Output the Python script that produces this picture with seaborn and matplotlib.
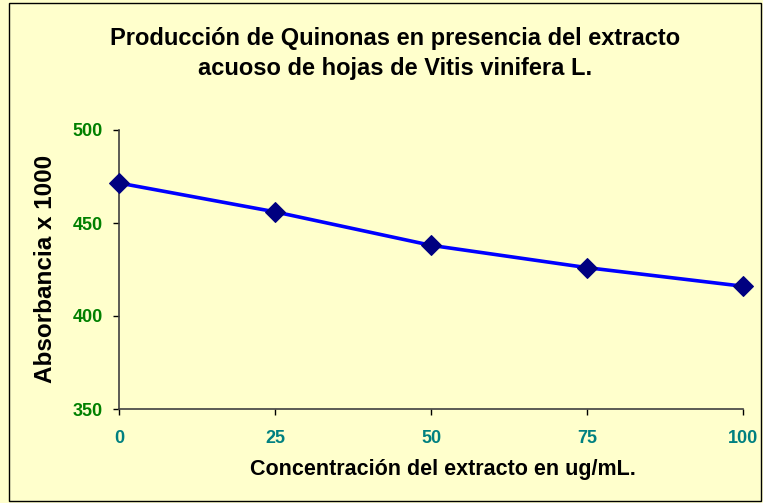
import matplotlib
matplotlib.use("Agg")
import matplotlib.pyplot as plt
import seaborn as sns
import pandas as pd
from matplotlib.patches import Rectangle

# Data
concentracion = [0, 25, 50, 75, 100]
absorbancia = [471.5, 456, 438, 426, 416]
y_ticks = [350, 400, 450, 500]
x_ticks = [0, 25, 50, 75, 100]

title_l1 = "Producción de Quinonas en presencia del extracto"
title_l2 = "acuoso de hojas de Vitis vinifera L."
xlabel = "Concentración del extracto en ug/mL."
ylabel = "Absorbancia x 1000"

sns.set_style("white")
plt.rcParams['font.family'] = ['Liberation Sans', 'DejaVu Sans']

bg = "#FFFFCC"
W, H = 763, 503
fig = plt.figure(figsize=(W / 100, H / 100), dpi=100, facecolor=bg)
ax = fig.add_axes([119 / W, 1 - 409 / H, (743 - 119) / W, (409 - 130) / H])
ax.set_facecolor(bg)

df = pd.DataFrame({"x": concentracion, "y": absorbancia})
sns.lineplot(data=df, x="x", y="y", ax=ax, color="#0000FF", linewidth=2.6,
             marker="D", markersize=10.5, markerfacecolor="#000080",
             markeredgecolor="#000080", clip_on=False, zorder=3)

ax.set_xlim(0, 100)
ax.set_ylim(350, 500)
ax.set_xticks(x_ticks)
ax.set_yticks(y_ticks)
ax.set_xticklabels([str(v) for v in x_ticks], fontsize=13, fontweight="bold", color="#008080")
ax.set_yticklabels([str(v) for v in y_ticks], fontsize=13, fontweight="bold", color="#008000")
ax.tick_params(axis="both", which="major", direction="out", length=4.5, width=1,
               color="#000000", left=True, bottom=True)
ax.tick_params(axis="x", pad=10.5)
ax.tick_params(axis="y", pad=7)
for s in ["top", "right"]:
    ax.spines[s].set_visible(False)
for s in ["left", "bottom"]:
    ax.spines[s].set_color("#404040")
    ax.spines[s].set_linewidth(1.2)
ax.set_xlabel("")
ax.set_ylabel("")

fig.text(395 / W, 1 - 38 / H, title_l1, ha="center", va="center", fontsize=17,
         fontweight="bold", color="black")
fig.text(395 / W, 1 - 69 / H, title_l2, ha="center", va="center", fontsize=17,
         fontweight="bold", color="black")
fig.text(443 / W, 1 - 470 / H, xlabel, ha="center", va="center", fontsize=15.5,
         fontweight="bold", color="black")
fig.text(46 / W, 1 - 269 / H, ylabel, ha="center", va="center", fontsize=17.5,
         fontweight="bold", color="black", rotation=90)

fig.patches.append(Rectangle((9 / W, 2 / H), (761 - 9) / W, (500 - 2) / H,
                             transform=fig.transFigure, fill=False,
                             edgecolor="black", linewidth=1))

fig.savefig("out.png", dpi=100, facecolor=bg)
